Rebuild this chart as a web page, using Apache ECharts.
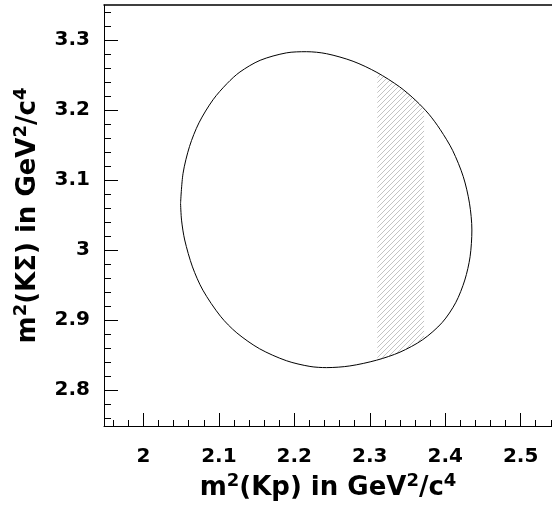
<!DOCTYPE html>
<html>
<head>
<meta charset="utf-8">
<script src="https://cdn.jsdelivr.net/npm/echarts@6/dist/echarts.min.js"></script>
<style>
  html, body { margin: 0; padding: 0; background: #fff; }
  #chart { width: 552px; height: 516px; }
</style>
</head>
<body>
<div id="chart"></div>
<script>
  // kinematic boundary
  var ellX = [2.0492, 2.0525, 2.0611, 2.0736, 2.0922, 2.1109, 2.1279, 2.1547, 2.1894, 2.2160,
              2.2428, 2.2779, 2.3095, 2.3397, 2.3612, 2.3785, 2.3934, 2.4098, 2.4240, 2.4322,
              2.4354, 2.4330, 2.4260, 2.4139, 2.3960, 2.3702, 2.3401, 2.3090, 2.2736, 2.2428,
              2.2207, 2.1894, 2.1540, 2.1238, 2.1021, 2.0788, 2.0650, 2.0547, 2.0505];
  var ellY = [3.0666, 3.1095, 3.1480, 3.1817, 3.2146, 3.2379, 3.2543, 3.2710, 3.2816, 3.2833,
              3.2804, 3.2696, 3.2537, 3.2330, 3.2134, 3.1939, 3.1721, 3.1424, 3.1047, 3.0669,
              3.0286, 2.9904, 2.9571, 2.9247, 2.8964, 2.8719, 2.8541, 2.8426, 2.8344, 2.8320,
              2.8337, 2.8419, 2.8589, 2.8816, 2.9054, 2.9426, 2.9759, 3.0143, 3.0427];

  // hatched band
  var bandX = [2.310, 2.310, 2.3397, 2.3612, 2.372, 2.372, 2.3401, 2.310];
  var bandY = [2.8426, 3.2537, 3.2330, 3.2134, 3.2012, 2.8736, 2.8541, 2.8426];

  var xMajor = [2.0, 2.1, 2.2, 2.3, 2.4, 2.5];
  var xMinor = [1.96, 1.98, 2.00, 2.02, 2.04, 2.06, 2.08, 2.10, 2.12, 2.14, 2.16, 2.18, 2.20, 2.22, 2.24,
                2.26, 2.28, 2.30, 2.32, 2.34, 2.36, 2.38, 2.40, 2.42, 2.44, 2.46, 2.48, 2.50, 2.52, 2.54];
  var yMajor = [2.8, 2.9, 3.0, 3.1, 3.2, 3.3];
  var yMinor = [2.76, 2.78, 2.80, 2.82, 2.84, 2.86, 2.88, 2.90, 2.92, 2.94, 2.96, 2.98, 3.00, 3.02, 3.04,
                3.06, 3.08, 3.10, 3.12, 3.14, 3.16, 3.18, 3.20, 3.22, 3.24, 3.26, 3.28, 3.30, 3.32, 3.34];

  var xMin = 1.9477, xMax = 2.5416;
  var yMin = 2.7486, yMax = 3.35;

  var font = "'DejaVu Sans', sans-serif";

  // hatch pattern
  var hatch = document.createElement('canvas');
  hatch.width = 5; hatch.height = 5;
  var hc = hatch.getContext('2d');
  hc.strokeStyle = '#b4b4b4';
  hc.lineWidth = 0.8;
  hc.beginPath();
  hc.moveTo(-1, 6); hc.lineTo(6, -1);
  hc.moveTo(-1, 1); hc.lineTo(1, -1);
  hc.moveTo(4, 6); hc.lineTo(6, 4);
  hc.stroke();

  var ellData = ellX.map(function (x, i) { return [x, ellY[i]]; });
  ellData.push([ellX[0], ellY[0]]);

  var titleRich = {
    a: { fontFamily: font, fontWeight: 'bold', fontSize: 26, color: '#000' },
    sup: { fontFamily: font, fontWeight: 'bold', fontSize: 18, color: '#000', padding: [0, 0, 15, 0] }
  };

  var myChart = echarts.init(document.getElementById('chart'));
  var options = {
    backgroundColor: '#fff',
    animation: false,
    grid: { left: 104, right: 0, top: 5, bottom: 90, containLabel: false },
    xAxis: [
      {
        type: 'value', min: xMin, max: xMax,
        axisLine: { show: true, lineStyle: { color: '#000', width: 1 } },
        axisTick: { show: true, inside: true, length: 13, customValues: xMajor, lineStyle: { color: '#000' } },
        axisLabel: { customValues: xMajor, margin: 21, color: '#000', fontFamily: font, fontWeight: 'bold', fontSize: 20 },
        splitLine: { show: false },
        name: '{a|m}{sup|2}{a|(Kp) in GeV}{sup|2}{a|/c}{sup|4}',
        nameLocation: 'middle',
        nameGap: 44,
        nameTextStyle: { rich: titleRich }
      },
      {
        type: 'value', min: xMin, max: xMax, position: 'bottom',
        axisLine: { show: false },
        axisTick: { show: true, inside: true, length: 6, customValues: xMinor, lineStyle: { color: '#000' } },
        axisLabel: { show: false },
        splitLine: { show: false }
      },
      {
        type: 'value', min: xMin, max: xMax, position: 'top',
        axisLine: { show: true, lineStyle: { color: '#000', width: 1.5 } },
        axisTick: { show: false },
        axisLabel: { show: false },
        splitLine: { show: false }
      }
    ],
    yAxis: [
      {
        type: 'value', min: yMin, max: yMax,
        axisLine: { show: true, lineStyle: { color: '#000', width: 1 } },
        axisTick: { show: true, inside: true, length: 14, customValues: yMajor, lineStyle: { color: '#000' } },
        axisLabel: { customValues: yMajor, margin: 14, color: '#000', fontFamily: font, fontWeight: 'bold', fontSize: 20 },
        splitLine: { show: false },
        name: '{a|m}{sup|2}{a|(KΣ) in GeV}{sup|2}{a|/c}{sup|4}',
        nameLocation: 'middle',
        nameRotate: 90,
        nameGap: 59,
        nameTextStyle: { rich: titleRich }
      },
      {
        type: 'value', min: yMin, max: yMax, position: 'left',
        axisLine: { show: false },
        axisTick: { show: true, inside: true, length: 7, customValues: yMinor, lineStyle: { color: '#000' } },
        axisLabel: { show: false },
        splitLine: { show: false }
      }
    ],
    series: [
      {
        type: 'custom',
        coordinateSystem: 'cartesian2d',
        data: [0],
        z: 1,
        renderItem: function (params, api) {
          var pts = bandX.map(function (x, i) { return api.coord([x, bandY[i]]); });
          return {
            type: 'polygon',
            shape: { points: pts },
            style: { fill: { image: hatch, repeat: 'repeat' }, stroke: null }
          };
        }
      },
      {
        type: 'line',
        data: ellData,
        smooth: 0.3,
        symbol: 'none',
        z: 2,
        lineStyle: { color: '#000', width: 1 }
      }
    ]
  };
  myChart.setOption(options);
</script>
</body>
</html>
